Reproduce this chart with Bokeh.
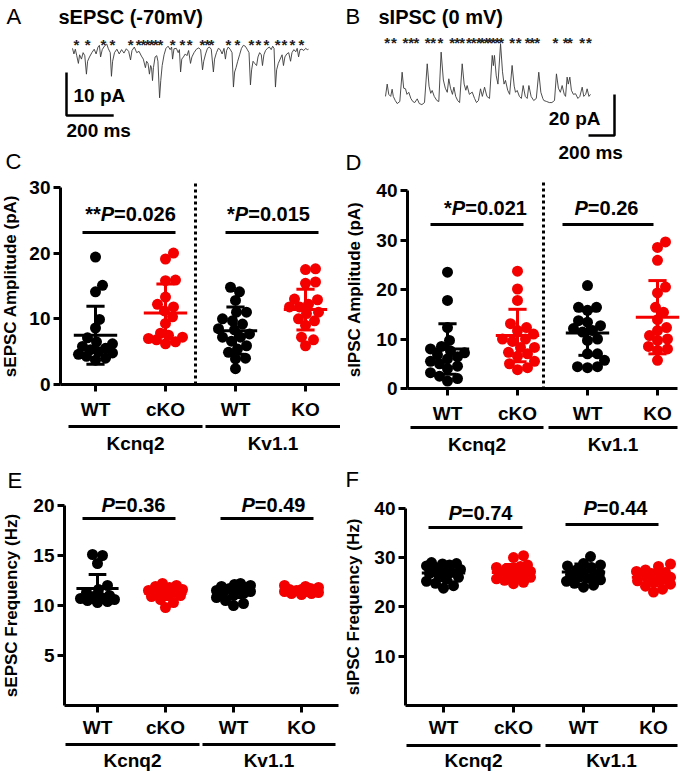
import numpy as np
from bokeh.plotting import figure
from bokeh.layouts import row, column
from bokeh.models import Range1d, LinearAxis, FixedTicker, CustomJSTickFormatter
from bokeh.core.properties import value
from bokeh.embed import file_html
from bokeh.resources import INLINE

# ---------------- data ----------------
# example traces: (time ms, current pA)
epsc_trace = [(0,0.5),(6,-0.8),(12,0.3),(18,-1.2),(25,-3.0),(30,-1.0),(38,-2.0),(45,-0.5),(52,-1.2),(59,-5.5),
    (64,-2.5),(72,-1.5),(82,-0.5),(92,0.3),(100,-0.8),(108,0.8),(114,1.2),(119,-1.5),(126,0.2),(135,1.0),
    (145,1.5),(152,0.4),(160,-0.5),(165,-6.0),(170,-2.5),(178,-0.5),(188,0.3),(198,-0.8),(208,0.2),(218,-0.6),
    (228,0.4),(238,-0.2),(246,-2.2),(252,0.0),(262,0.8),(272,-0.5),(282,-0.2),(292,-1.3),(300,-2.0),(309,-4.0),
    (314,-2.5),(320,-3.0),(326,-5.5),(331,-3.5),(335,-4.0),(339,-7.0),(343,-4.0),(350,-1.5),(357,-1.2),(362,-2.5),
    (369,-11.0),(374,-7.0),(380,-3.5),(388,-1.0),(396,0.5),(405,1.0),(414,0.2),(420,0.8),(424,-2.0),(430,0.4),
    (440,0.5),(448,-0.5),(453,0.2),(458,-5.0),(463,-2.0),(470,-1.5),(478,-0.8),(485,-1.2),(492,0.0),(500,-3.0),
    (506,-1.5),(515,-0.5),(525,0.3),(535,0.6),(543,0.2),(551,-4.5),(556,-2.5),(564,-0.8),(572,0.5),(580,0.8),
    (588,0.3),(597,-5.0),(602,-2.0),(610,-0.5),(618,0.5),(626,0.2),(634,-0.8),(642,0.5),(648,-2.0),(653,0.0),
    (660,0.8),(668,0.3),(676,-0.5),(682,-8.5),(687,-5.0),(693,-4.0),(700,-2.5),(708,-1.0),(716,0.5),(724,1.2),
    (732,1.0),(740,0.3),(748,-0.5),(754,-8.0),(759,-4.5),(765,-2.5),(772,-3.0),(780,-3.5),(786,-1.5),(793,-0.5),
    (800,-1.0),(805,-3.5),(811,-1.0),(818,0.0),(826,0.5),(834,0.8),(842,0.2),(848,1.0),(854,0.5),(860,-8.5),
    (865,-4.5),(872,-3.0),(880,-2.0),(888,-1.0),(894,-3.5),(900,-1.5),(908,-0.8),(916,-0.5),(924,-2.5),(930,-0.5),
    (938,0.2),(946,-0.3),(952,0.5),(958,-1.5),(964,0.2),(972,0.3),(980,0.0),(988,0.5),(995,0.2),(1000,0.3)]
epsc_star_ms = [17,64,131,169,246,280,301,318,335,352,373,424,466,496,551,572,589,661,699,758,788,822,869,898,932,970]
epsc_scale = (200, 10)   # ms, pA

ipsc_trace = [(0,2),(13,8),(25,3),(40,2),(51,5.5),(60,2),(75,0),(90,-1.5),(110,-0.5),(128,13.8),(140,6),(154,5.7),
    (165,3),(179,4),(195,1),(210,-0.5),(225,-1),(244,0.8),(260,-1.5),(280,-2),(300,-1),(321,17.9),(335,7),(348,3.5),
    (359,4.9),(375,2),(395,0),(410,-0.5),(428,23.6),(445,10),(460,6),(475,4),(487,10.6),(500,6),(515,3),(526,6.5),
    (540,2),(555,0),(570,-1),(590,17.9),(605,8),(618,5),(628,7.3),(645,3),(667,4.1),(685,1),(700,-1),(715,0),
    (731,5.7),(745,2),(762,6.5),(780,2),(800,1),(821,22),(830,17),(838,22),(852,12),(865,8),(885,27.7),(900,14),
    (912,8),(923,9.8),(940,5),(955,3),(974,17.1),(990,7),(1000,4),(1013,4.9),(1030,2),(1045,1),(1059,7.3),(1075,2),
    (1090,1),(1103,7.3),(1120,2),(1140,0),(1160,1),(1179,13.8),(1195,4),(1210,1),(1218,0),(1240,-0.5),(1260,-1),
    (1280,-1),(1300,0),(1315,13),(1330,6),(1345,4),(1359,7.3),(1375,3),(1385,2),(1397,11.4),(1406,8),(1418,11.4),
    (1430,5),(1445,3),(1462,3.3),(1480,1),(1495,2),(1513,6.5),(1525,2),(1540,3),(1551,5.7),(1565,2),(1577,3)]
ipsc_star_ms = [13,64,154,198,238,325,367,423,513,551,590,641,679,718,744,777,802,828,859,890,974,1025,1094,
    1128,1167,1308,1385,1418,1513,1564]
ipsc_scale = (200, 20)   # ms, pA

conditions = ["WT", "cKO", "WT", "KO"]
groups = ["Kcnq2", "Kv1.1"]

# C: sEPSC amplitude (pA)
epsc_amp_wt_kcnq2 = [19.4, 15.1, 14.1, 9.9, 8.6, 7.1, 6.5, 6.2, 5.8, 5.5, 5.3, 5.0, 4.8, 4.6, 4.3, 4.0, 3.7]
epsc_amp_cko = [20.0, 19.1, 15.9, 15.8, 13.3, 12.2, 11.8, 11.2, 10.3, 9.3, 7.8, 7.5, 7.2, 7.0, 6.8, 6.5, 6.2]
epsc_amp_wt_kv11 = [14.8, 14.1, 12.8, 11.0, 11.0, 10.0, 9.7, 9.2, 8.5, 8.3, 7.7, 7.2, 7.2, 6.6, 5.9, 5.4, 4.9, 4.0, 3.9, 2.4]
epsc_amp_ko = [17.6, 17.5, 15.6, 15.4, 13.0, 12.9, 12.2, 11.8, 11.8, 11.0, 10.8, 10.0, 9.7, 9.0, 7.2, 6.8, 5.9]
epsc_amp_mean = [7.5, 10.9, 8.2, 11.4]
epsc_amp_sd = [4.4, 4.4, 3.6, 3.1]
epsc_amp_sig = ["**", "*"]
epsc_amp_p = ["0.026", "0.015"]

# D: sIPSC amplitude (pA)
ipsc_amp_wt_kcnq2 = [23.5, 17.8, 12.3, 9.7, 8.5, 8.0, 7.6, 7.2, 6.8, 6.4, 6.0, 5.5, 5.0, 4.5, 4.0, 3.2, 2.5, 2.0, 1.5]
ipsc_amp_cko = [23.7, 20.1, 17.8, 13.1, 12.3, 11.7, 11.0, 10.0, 10.0, 9.5, 8.3, 8.3, 7.3, 7.0, 6.5, 5.5, 5.0, 4.2, 3.8]
ipsc_amp_wt_kv11 = [20.8, 16.4, 16.4, 15.8, 13.7, 13.4, 12.7, 12.1, 11.7, 11.4, 10.0, 9.7, 7.0, 7.0, 5.7, 4.4, 4.4, 4.2]
ipsc_amp_ko = [29.6, 28.5, 25.9, 20.5, 19.3, 16.4, 15.4, 13.9, 12.3, 11.7, 10.7, 10.0, 9.7, 8.5, 8.0, 7.7, 5.7]
ipsc_amp_mean = [8.0, 10.7, 11.2, 14.4]
ipsc_amp_sd = [5.1, 5.3, 4.5, 7.4]
ipsc_amp_sig = ["*", ""]
ipsc_amp_p = ["0.021", "0.26"]

# E: sEPSC frequency (Hz)
epsc_freq_wt_kcnq2 = [15.1, 15.0, 14.2, 12.0, 11.6, 11.3, 11.0, 10.9, 10.8, 10.7, 10.6, 10.5, 10.4, 10.3]
epsc_freq_cko = [12.2, 12.0, 11.9, 11.8, 11.6, 11.5, 11.4, 11.3, 11.2, 11.1, 11.0, 10.9, 10.6, 10.3, 9.8]
epsc_freq_wt_kv11 = [12.2, 12.1, 12.0, 11.9, 11.8, 11.7, 11.6, 11.5, 11.4, 11.3, 11.2, 11.0, 10.8, 10.5, 10.2, 10.0]
epsc_freq_ko = [12.0, 11.9, 11.8, 11.7, 11.6, 11.6, 11.5, 11.5, 11.4, 11.4, 11.3, 11.2, 11.2, 11.1]
epsc_freq_mean = [11.7, 11.2, 11.4, 11.5]
epsc_freq_sd = [1.4, 0.6, 0.6, 0.3]
epsc_freq_sig = ["", ""]
epsc_freq_p = ["0.36", "0.49"]

# F: sIPSC frequency (Hz)
ipsc_freq_wt_kcnq2 = [29.0, 28.8, 28.7, 28.5, 28.3, 28.0, 27.6, 27.2, 27.0, 26.8, 26.5, 26.0, 25.6, 25.2, 24.8, 24.3, 23.8]
ipsc_freq_cko = [30.4, 30.0, 28.5, 28.2, 28.0, 27.8, 27.5, 27.2, 27.0, 26.8, 26.5, 26.2, 26.0, 25.7, 25.4, 25.0, 24.7]
ipsc_freq_wt_kv11 = [30.2, 28.8, 28.5, 28.3, 28.0, 27.5, 27.0, 26.8, 26.5, 26.2, 26.0, 25.8, 25.5, 25.2, 24.8, 24.4, 24.0]
ipsc_freq_ko = [28.7, 28.2, 27.5, 27.2, 27.0, 26.8, 26.5, 26.3, 26.0, 25.8, 25.6, 25.3, 25.0, 24.6, 24.2, 23.6, 23.0]
ipsc_freq_mean = [26.9, 27.0, 27.1, 26.0]
ipsc_freq_sd = [1.6, 1.6, 1.6, 1.4]
ipsc_freq_sig = ["", ""]
ipsc_freq_p = ["0.74", "0.44"]

# ---------------- layout helpers ----------------
FONT = "Liberation Sans"
COLORS = ["#000000", "#f40000", "#000000", "#f40000"]
TRACE = "#3a3a3a"


class Panel:
    """A figure covering the pixel box [cx0,cx1]x[cy0,cy1]; px = ax + bx*x, py = ay - by*y."""
    def __init__(self, cx0, cx1, cy0, cy1, ax, bx, ay, by):
        self.ax, self.bx, self.ay, self.by = ax, bx, ay, by
        p = figure(width=cx1 - cx0, height=cy1 - cy0,
                   x_range=Range1d(self.X(cx0), self.X(cx1)),
                   y_range=Range1d(self.Y(cy1), self.Y(cy0)),
                   x_axis_type=None, y_axis_type=None, title=None,
                   output_backend="svg", toolbar_location=None, min_border=0)
        p.outline_line_color = None
        p.background_fill_color = "white"
        p.border_fill_color = "white"
        self.p = p
        self.ppx = bx
        self.ppy = by

    def X(self, rx):
        return (rx - self.ax) / self.bx

    def Y(self, ry):
        return (self.ay - ry) / self.by

    def label(self, s, rx, ry, size=19, style="bold", align="left", xoff=0):
        self.p.text(x=[self.X(rx)], y=[self.Y(ry)], text=[s], text_font=value(FONT),
                    text_font_size=f"{size}px", text_font_style=style,
                    text_align=align, text_baseline="middle", text_color="black",
                    x_offset=xoff)


CW = {"*": 0.389, "P": 0.667, "=": 0.584, ".": 0.278}


def tw(s, size):
    return sum(CW.get(ch, 0.556) for ch in s) * size


def pval(P, sig, pv, rx, ry, size=20):
    rest = "=" + pv
    w1, w2, w3 = tw(sig, size), tw("P", size), tw(rest, size)
    start = -(w1 + w2 + w3) / 2
    if sig:
        P.label(sig, rx, ry, size, "bold", "right", start + w1)
    P.label("P", rx, ry, size, "bold italic", "left", start + w1)
    P.label(rest, rx, ry, size, "bold", "left", start + w1 + w2)


def swarm(vals, ppx, ppy, diam=11.0, maxhalf=17.0, step=1.0):
    vals = np.asarray(vals, float)
    order = np.argsort(vals, kind="stable")
    cands = [0.0]
    k = 1
    while k * step <= maxhalf:
        cands += [k * step, -k * step]
        k += 1
    placed = []
    offs = np.zeros(len(vals))
    dmin = 0.85 * diam
    for i in order:
        y = vals[i] * ppy
        best, bestd = 0.0, -1.0
        for c in cands:
            d = min((np.hypot(c - px, y - py) for px, py in placed), default=1e9)
            if d >= dmin:
                best = c
                break
            if d > bestd:
                best, bestd = c, d
        placed.append((best, y))
        offs[i] = best / ppx
    return offs


def style_axis(a):
    a.axis_line_width = 3
    a.axis_line_color = "black"
    a.major_tick_line_width = 3
    a.major_tick_line_color = "black"
    a.major_tick_out = 7
    a.major_tick_in = 0
    a.minor_tick_line_color = None
    a.major_label_text_font = FONT
    a.major_label_text_font_style = "bold"
    a.major_label_text_font_size = "19px"
    a.major_label_text_color = "black"
    a.axis_label_text_font = FONT
    a.axis_label_text_font_style = "bold"
    a.axis_label_text_font_size = "17px"
    a.axis_label_text_color = "black"
    a.major_label_standoff = 3


def scatter_panel(P, series, means, sds, sigs, pvs, cfg):
    p = P.p
    if cfg.get("sep"):
        sx, sy0 = cfg["sep"]
        p.line([P.X(sx)] * 2, [P.Y(sy0), 0], line_width=3, line_dash="3 3", line_color="black")
    for i, vals in enumerate(series):
        offs = swarm(vals, P.ppx, P.ppy)
        p.scatter(x=[i + 1 + o for o in offs], y=vals, size=11,
                  fill_color=COLORS[i], line_color=None)
    cap, half = 0.13, 0.31
    for i, (m, s) in enumerate(zip(means, sds)):
        x = i + 1
        p.segment(x0=[x, x - cap, x - cap, x - half], y0=[m - s, m - s, m + s, m],
                  x1=[x, x + cap, x + cap, x + half], y1=[m + s, m - s, m + s, m],
                  line_width=3, line_color=COLORS[i])
    yax = LinearAxis(fixed_location=P.X(cfg["axis_x"]), bounds=(0, cfg["ytop"]),
                     ticker=FixedTicker(ticks=cfg["yticks"]), axis_label=cfg["ylabel"])
    style_axis(yax)
    yax.axis_label_standoff = cfg["ylab_standoff"]
    p.add_layout(yax, "left")
    xax = LinearAxis(fixed_location=0, bounds=(P.X(cfg["axis_x"]), P.X(cfg["x_end"])),
                     ticker=FixedTicker(ticks=[1, 2, 3, 4]),
                     formatter=CustomJSTickFormatter(args=dict(labels=conditions),
                                                     code="return labels[Math.round(tick) - 1];"))
    style_axis(xax)
    xax.major_label_standoff = cfg["xstand"]
    p.add_layout(xax, "below")
    for (a, b), g in zip(cfg["under"], groups):
        p.line([P.X(a), P.X(b)], [P.Y(cfg["under_y"])] * 2, line_width=3, line_color="black")
        P.label(g, (a + b) / 2, cfg["group_y"], 19, "bold", "center")
    for (a, b, yb), (tx, ty), sig, pv in zip(cfg["bars"], cfg["texts"], sigs, pvs):
        p.line([P.X(a), P.X(b)], [P.Y(yb)] * 2, line_width=3, line_color="black")
        pval(P, sig, pv, tx, ty)
    if cfg.get("letter"):
        t, lx, ly = cfg["letter"]
        P.label(t, lx, ly, 22, "normal")


TOP, MID, BOT, RIGHT, SPLIT = 175, 458, 773, 680, 340

# ---------------- A ----------------
PA = Panel(0, SPLIT, 0, TOP, 72, 0.236, 50, 4.3)
ta, va = zip(*epsc_trace)
PA.p.line(list(ta), list(va), line_width=0.9, line_color=TRACE)
PA.p.text(x=epsc_star_ms, y=[PA.Y(44)] * len(epsc_star_ms), text=["*"] * len(epsc_star_ms),
          text_font=value(FONT), text_font_size="15px", text_font_style="bold",
          text_align="center", text_baseline="middle", text_color="#222222")
x0, y0 = PA.X(66), PA.Y(115)
PA.p.line([x0, x0, x0 + epsc_scale[0]], [y0 + epsc_scale[1], y0, y0], line_width=2.5, line_color="black")
PA.label("A", 6, 16, 22, "normal")
PA.label("sEPSC (-70mV)", 58, 16, 20)
PA.label("10 pA", 73, 95, 19)
PA.label("200 ms", 66, 130, 19)
PA.label("C", 5, 161, 22, "normal")

# ---------------- B ----------------
PB = Panel(SPLIT, RIGHT, 0, TOP, 385, 0.13, 100, 2.05)
tb, vb = zip(*ipsc_trace)
PB.p.line(list(tb), list(vb), line_width=0.9, line_color=TRACE)
PB.p.text(x=ipsc_star_ms, y=[PB.Y(42)] * len(ipsc_star_ms), text=["*"] * len(ipsc_star_ms),
          text_font=value(FONT), text_font_size="15px", text_font_style="bold",
          text_align="center", text_baseline="middle", text_color="#222222")
xr, y0 = PB.X(614), PB.Y(135)
PB.p.line([xr - ipsc_scale[0], xr, xr], [y0, y0, y0 + ipsc_scale[1]], line_width=2.5, line_color="black")
PB.label("B", 345, 16, 22, "normal")
PB.label("sIPSC (0 mV)", 378, 16, 20)
PB.label("20 pA", 600, 118, 19, "bold", "right")
PB.label("200 ms", 558, 152, 19)
PB.label("D", 345, 162, 22, "normal")

# ---------------- C ----------------
PC = Panel(0, SPLIT, TOP, MID, 25, 70, 384, 6.57)
scatter_panel(PC, [epsc_amp_wt_kcnq2, epsc_amp_cko, epsc_amp_wt_kv11, epsc_amp_ko],
              epsc_amp_mean, epsc_amp_sd, epsc_amp_sig, epsc_amp_p,
              dict(sep=(195, 183), axis_x=60, x_end=340, ytop=30, yticks=[0, 10, 20, 30],
                   ylabel="sEPSC Amplitude (pA)", ylab_standoff=6, xstand=7,
                   under=[(68, 202), (205, 340)], under_y=426, group_y=443,
                   bars=[(82, 175, 232), (225, 318, 232)], texts=[(130, 213), (268, 213)]))

# ---------------- D ----------------
PD = Panel(SPLIT, RIGHT, TOP, MID, 377, 70, 388, 4.95)
scatter_panel(PD, [ipsc_amp_wt_kcnq2, ipsc_amp_cko, ipsc_amp_wt_kv11, ipsc_amp_ko],
              ipsc_amp_mean, ipsc_amp_sd, ipsc_amp_sig, ipsc_amp_p,
              dict(sep=(543, 182), axis_x=407, x_end=677, ytop=40, yticks=[0, 10, 20, 30, 40],
                   ylabel="sIPSC Amplitude (pA)", ylab_standoff=9, xstand=7,
                   under=[(410, 543), (548, 677)], under_y=427, group_y=444,
                   bars=[(430, 523, 224), (562, 653, 224)], texts=[(485, 207), (606, 207)]))

# ---------------- E ----------------
PE = Panel(0, SPLIT, MID, BOT, 29, 68, 705, 10)
scatter_panel(PE, [epsc_freq_wt_kcnq2, epsc_freq_cko, epsc_freq_wt_kv11, epsc_freq_ko],
              epsc_freq_mean, epsc_freq_sd, epsc_freq_sig, epsc_freq_p,
              dict(axis_x=64, x_end=338, ytop=20, yticks=[5, 10, 15, 20],
                   ylabel="sEPSC Frequency (Hz)", ylab_standoff=9, xstand=4,
                   under=[(65, 199), (202, 335)], under_y=744, group_y=760,
                   bars=[(82, 175, 518), (220, 313, 518)], texts=[(133, 504), (273, 504)],
                   letter=("E", 7, 480)))

# ---------------- F ----------------
PF = Panel(SPLIT, RIGHT, MID, BOT, 373, 70, 705, 4.93)
scatter_panel(PF, [ipsc_freq_wt_kcnq2, ipsc_freq_cko, ipsc_freq_wt_kv11, ipsc_freq_ko],
              ipsc_freq_mean, ipsc_freq_sd, ipsc_freq_sig, ipsc_freq_p,
              dict(axis_x=405, x_end=677, ytop=40, yticks=[10, 20, 30, 40],
                   ylabel="sIPSC Frequency (Hz)", ylab_standoff=8, xstand=4,
                   under=[(406, 540), (545, 677)], under_y=745, group_y=760,
                   bars=[(428, 522, 527), (565, 658, 524)], texts=[(480, 512), (615, 507)],
                   letter=("F", 345, 479)))

layout = column(row(PA.p, PB.p), row(PC.p, PD.p), row(PE.p, PF.p))
open("out.html", "w").write(file_html(layout, INLINE))
